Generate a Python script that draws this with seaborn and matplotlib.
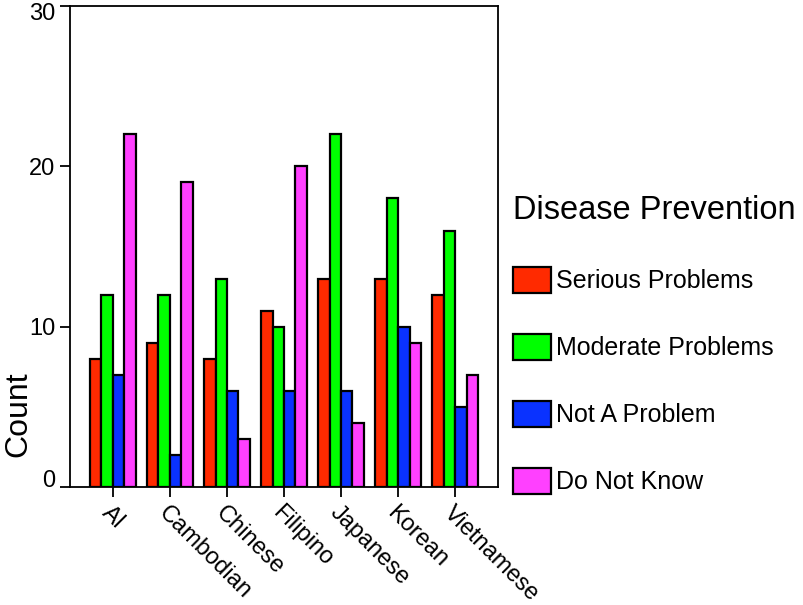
import matplotlib
matplotlib.use("Agg")
import matplotlib.pyplot as plt
import matplotlib.patches as mpatches
import matplotlib.transforms as mtransforms
import seaborn as sns
import pandas as pd

groups = ["AI", "Cambodian", "Chinese", "Filipino", "Japanese", "Korean", "Vietnamese"]
responses = ["Serious Problems", "Moderate Problems", "Not A Problem", "Do Not Know"]
serious = [8, 9, 8, 11, 13, 13, 12]
moderate = [12, 12, 13, 10, 22, 18, 16]
not_problem = [7, 2, 6, 6, 6, 10, 5]
do_not_know = [22, 19, 3, 20, 4, 9, 7]
colors = ["#ff2a00", "#00ff00", "#0a32ff", "#ff40ff"]

rows = []
for resp, vals in zip(responses, [serious, moderate, not_problem, do_not_know]):
    for g, v in zip(groups, vals):
        rows.append({"Group": g, "Response": resp, "Count": v})
df = pd.DataFrame(rows)

sns.set_style("white")
plt.rcParams["font.family"] = ["Liberation Sans", "DejaVu Sans"]
plt.rcParams["text.color"] = "black"
plt.rcParams["axes.labelcolor"] = "black"
plt.rcParams["xtick.color"] = "black"
plt.rcParams["ytick.color"] = "black"

fig = plt.figure(figsize=(8.04, 6.05), dpi=100)
ax = fig.add_axes([0.0871, 0.195, 0.5323, 0.795])

sns.barplot(data=df, x="Group", y="Count", hue="Response", order=groups,
            hue_order=responses, palette=colors, saturation=1,
            edgecolor="black", linewidth=1.6, width=0.8, ax=ax, legend=False)

ax.set_xlim(-0.75, 6.75)
ax.set_ylim(0, 30)
ax.set_yticks([0, 10, 20, 30])
ax.set_xlabel("")
ax.set_ylabel("Count", fontsize=23)
ax.yaxis.set_label_coords(-0.086, 0.152)
ax.tick_params(axis="both", direction="out", length=7, width=1.3, color="black",
               labelcolor="black", labelsize=17, bottom=True, left=True)
for lbl in ax.get_xticklabels():
    lbl.set_rotation(-45)
    lbl.set_ha("left")
    lbl.set_va("top")
    lbl.set_rotation_mode("anchor")

# keep the end labels of the y axis inside the frame
ylabels = ax.get_yticklabels()
ylabels[0].set_transform(ylabels[0].get_transform()
                         + mtransforms.ScaledTranslation(0, 6 / 72, fig.dpi_scale_trans))
ylabels[-1].set_transform(ylabels[-1].get_transform()
                          + mtransforms.ScaledTranslation(0, -4 / 72, fig.dpi_scale_trans))

for s in ax.spines.values():
    s.set_color("black")
    s.set_linewidth(1.3)

handles = [mpatches.Patch(facecolor=c, edgecolor="black", linewidth=1.6, label=r)
           for c, r in zip(colors, responses)]
leg = fig.legend(handles=handles, loc="upper left", bbox_to_anchor=(0.622, 0.698),
                 frameon=False, fontsize=18, title="Disease Prevention",
                 title_fontsize=23.5, handlelength=1.55, handleheight=1.2,
                 handletextpad=0.2, labelspacing=1.63, borderpad=0,
                 alignment="left")
leg.get_title().set_color("black")

fig.savefig("out.png", dpi=100)
